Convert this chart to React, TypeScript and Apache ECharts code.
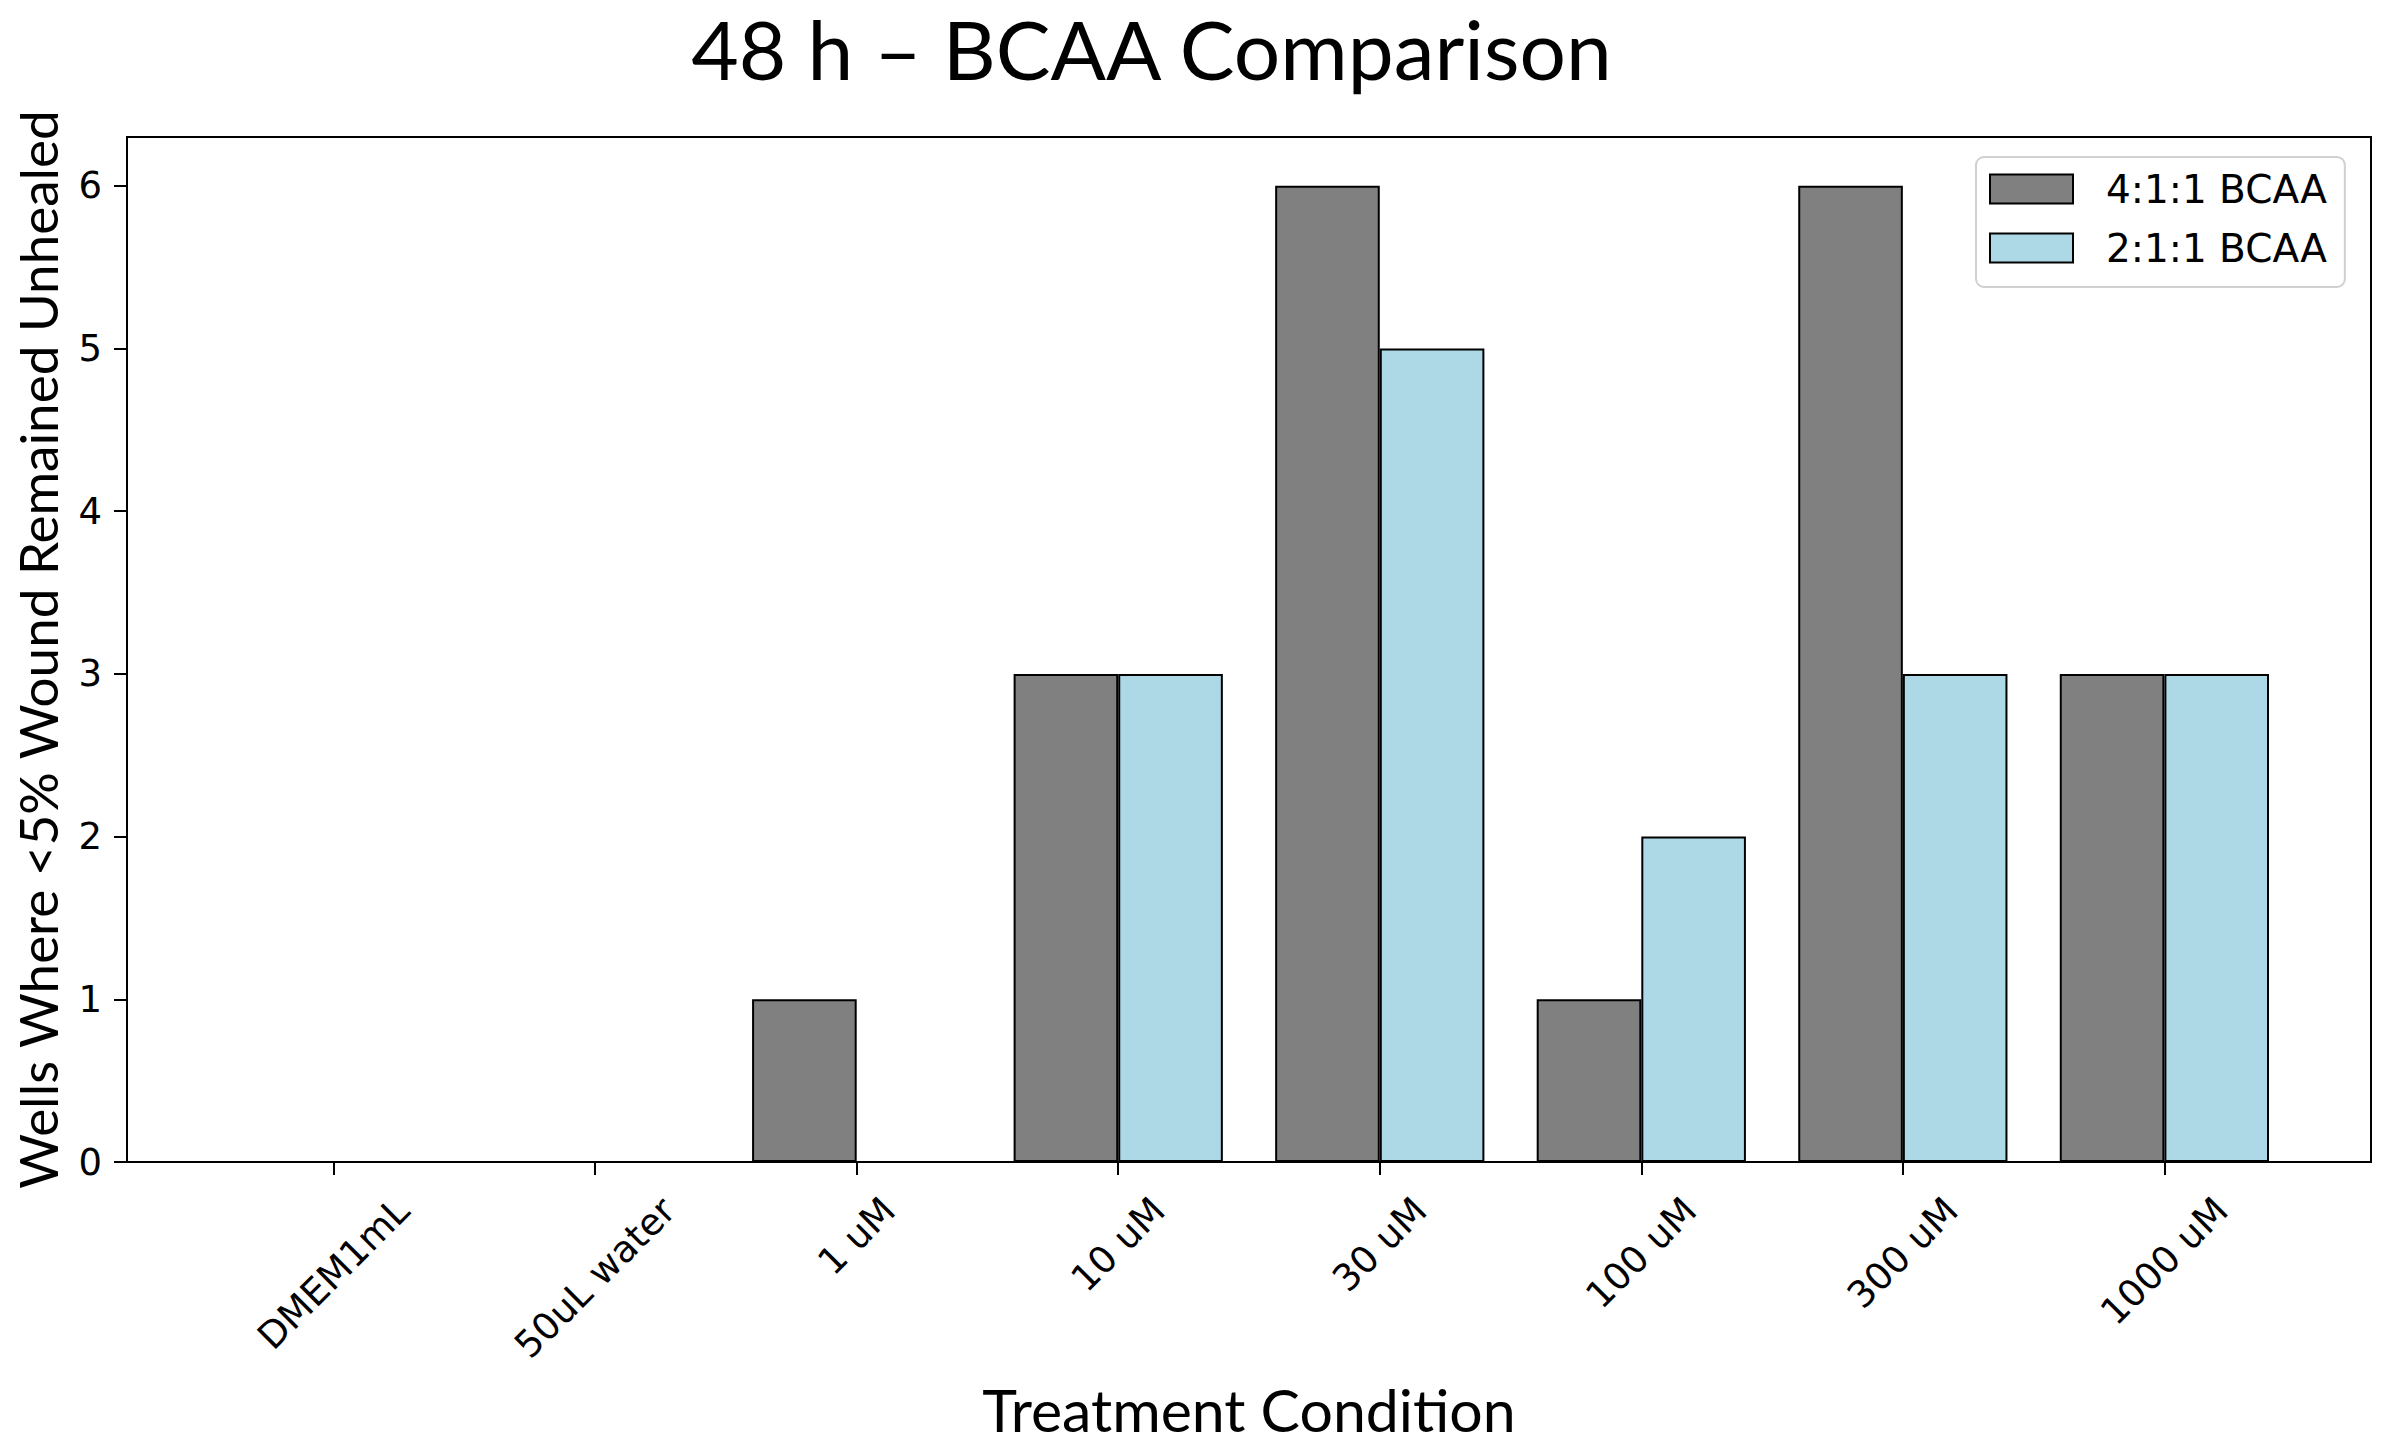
import React, { useEffect, useRef } from "react";
import * as echarts from "echarts";

const categories = ["DMEM1mL", "50uL water", "1 uM", "10 uM", "30 uM", "100 uM", "300 uM", "1000 uM"];
const seriesNames = ["4:1:1 BCAA", "2:1:1 BCAA"];
const values411 = [0, 0, 1, 3, 6, 1, 6, 3];
const values211 = [0, 0, 0, 3, 5, 2, 3, 3];
const yTicks = [0, 1, 2, 3, 4, 5, 6];
const yMax = 6.3;
const xMin = -0.79;
const xMax = 7.79;
const titleText = "48 h \u2013 BCAA Comparison";
const xTitle = "Treatment Condition";
const yTitle = "Wells Where <5% Wound Remained Unhealed";

export default function App() {
  const ref = useRef<HTMLDivElement>(null);
  useEffect(() => {
    const el = ref.current!;
    const chart = echarts.init(el, undefined, { renderer: "svg" });
    const frame = { left: 127, top: 137, width: 2244, height: 1025 };
    const unit = frame.width / (xMax - xMin);
    const innerLeft = frame.left + (-0.5 - xMin) * unit;
    const innerWidth = categories.length * unit;
    const barW = 0.4 * unit;
    const tickFont = 37;
    const lh = 43;
    const ctx = document.createElement("canvas").getContext("2d")!;
    ctx.font = `${tickFont}px "DejaVu Sans"`;
    const catData = categories.map((c) => {
      const w = ctx.measureText(c).width;
      const b = Math.max(0, (w - lh) / 4);
      return {
        value: c,
        textStyle: {
          align: "center",
          verticalAlign: "top",
          padding: [b, 2 * b + lh, 0, 0],
        },
      };
    });
    const nameFont = { fontFamily: "Lato", color: "#000", fontWeight: "normal" as const, verticalAlign: "middle" as const };
    const tickLine = { color: "#000", width: 2 };

    chart.setOption({
      animation: false,
      backgroundColor: "#fff",
      graphic: [
        {
          type: "text",
          x: 1151.5,
          y: 48,
          style: {
            text: titleText,
            fontFamily: "Lato",
            fontSize: 82,
            lineHeight: 84,
            fill: "#000",
            align: "center",
            verticalAlign: "middle",
          },
        },
      ],
      legend: {
        left: 1976,
        top: 157,
        orient: "vertical",
        icon: "rect",
        itemWidth: 83,
        itemHeight: 29,
        itemGap: 15,
        padding: [10, 18, 17, 13],
        backgroundColor: "#fff",
        borderColor: "#d0d0d0",
        borderWidth: 2,
        borderRadius: 8,
        textStyle: { fontFamily: "DejaVu Sans", fontSize: 39, color: "#000", lineHeight: 44, padding: [0, 0, 0, 28] },
        data: [
          { name: seriesNames[0], itemStyle: { color: "#808080", borderColor: "#000", borderWidth: 2 } },
          { name: seriesNames[1], itemStyle: { color: "#ADD8E6", borderColor: "#000", borderWidth: 2 } },
        ],
      },
      grid: [
        {
          left: frame.left,
          top: frame.top,
          width: frame.width,
          height: frame.height,
          show: true,
          borderColor: "#000",
          borderWidth: 2,
          backgroundColor: "transparent",
          outerBoundsMode: "none",
          containLabel: false,
        },
        {
          left: innerLeft,
          top: frame.top,
          width: innerWidth,
          height: frame.height,
          outerBoundsMode: "none",
          containLabel: false,
        },
      ],
      xAxis: [
        { gridIndex: 0, type: "value", min: xMin, max: xMax, show: false },
        {
          gridIndex: 1,
          type: "category",
          data: catData,
          name: xTitle,
          nameLocation: "middle",
          nameGap: 247,
          nameMoveOverlap: false,
          nameTextStyle: { ...nameFont, fontSize: 59 },
          axisLine: { show: false, onZero: false },
          axisTick: { show: true, alignWithLabel: true, length: 13, lineStyle: tickLine },
          axisLabel: {
            interval: 0,
            rotate: 45,
            margin: 27,
            fontFamily: "DejaVu Sans",
            fontSize: tickFont,
            lineHeight: lh,
            color: "#000",
            hideOverlap: false,
          },
          splitLine: { show: false },
        },
      ],
      yAxis: [
        {
          gridIndex: 0,
          type: "value",
          min: 0,
          max: yMax,
          interval: 1,
          name: yTitle,
          nameLocation: "middle",
          nameGap: 89.5,
          nameRotate: 90,
          nameMoveOverlap: false,
          nameTextStyle: { ...nameFont, fontSize: 53 },
          axisLine: { show: false, onZero: false },
          axisTick: { show: true, length: 13, lineStyle: tickLine, customValues: yTicks },
          axisLabel: {
            customValues: yTicks,
            margin: 25,
            fontFamily: "DejaVu Sans",
            fontSize: tickFont,
            color: "#000",
            formatter: (v: number) => (Number.isInteger(v) ? String(v) : ""),
          },
          splitLine: { show: false },
        },
        { gridIndex: 1, type: "value", min: 0, max: yMax, show: false },
      ],
      series: [
        {
          type: "bar",
          name: seriesNames[0],
          xAxisIndex: 1,
          yAxisIndex: 1,
          data: values411,
          barWidth: barW,
          barGap: "0%",
          itemStyle: { color: "#808080", borderColor: "#000", borderWidth: 2 },
        },
        {
          type: "bar",
          name: seriesNames[1],
          xAxisIndex: 1,
          yAxisIndex: 1,
          data: values211,
          barWidth: barW,
          barGap: "0%",
          itemStyle: { color: "#ADD8E6", borderColor: "#000", borderWidth: 2 },
        },
      ],
    });
    return () => chart.dispose();
  }, []);
  return <div ref={ref} style={{ position: "absolute", left: 0, top: 0, width: 2390, height: 1444 }} />;
}
